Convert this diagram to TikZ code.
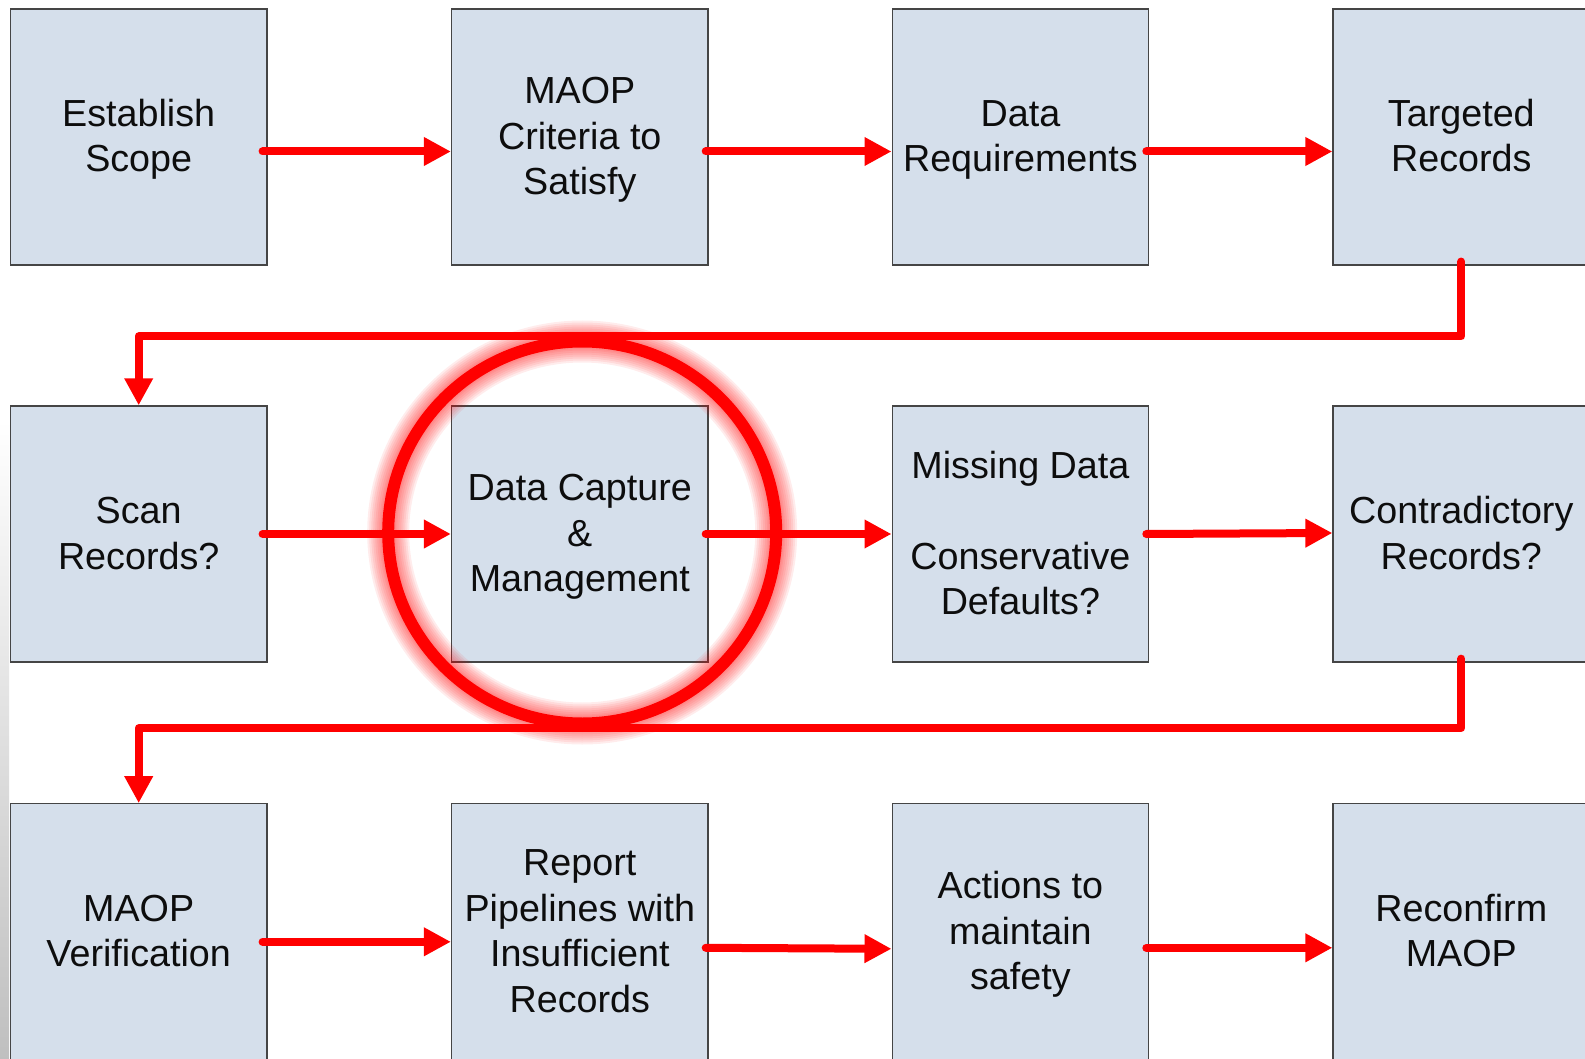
\documentclass[tikz,border=0pt]{standalone}
\usepackage{fontspec}
\setmainfont{Liberation Sans}
\usetikzlibrary{arrows.meta,calc}

\definecolor{boxfill}{HTML}{D5DFEB}
\definecolor{boxline}{HTML}{454545}
\definecolor{flowred}{HTML}{FF0000}

% fixed first-line height and last-line depth, so every label sits alike
\newcommand\steptext[1]{\rule{0pt}{32.5pt}#1\rule[-8pt]{0pt}{0pt}}

\tikzset{
  stepbox/.style={draw=boxline, line width=1.3pt, fill=boxfill,
    minimum width=256.5pt, minimum height=256pt, inner sep=0pt,
    align=center, text=black!95,
    font=\fontsize{37.7pt}{45.5pt}\selectfont},
  flow/.style={draw=flowred, line width=8pt, line cap=round, line join=round,
    -{Triangle[length=27pt,width=27pt]}},
  halo/.style={draw=flowred, opacity=0.075},
}

\begin{document}
\begin{tikzpicture}[x=1pt,y=-1pt]
  % page frame
  \useasboundingbox (0,0) rectangle (1585,1059);
  \clip (0,0) rectangle (1585,1059);
  \fill[white] (0,0) rectangle (1585,1059);
  \shade[top color=white, bottom color=black!25] (0,420) rectangle (9,1059);

  % first row
  \node[stepbox] (es) at (138.7,136.9) {\steptext{Establish\\Scope}};
  \node[stepbox] (mc) at (579.8,136.9) {\steptext{MAOP\\Criteria to\\Satisfy}};
  \node[stepbox] (dr) at (1020.4,136.9) {\steptext{Data\\Requirements}};
  \node[stepbox] (tr) at (1461.3,136.9) {\steptext{Targeted\\Records}};

  % second row
  \node[stepbox] (sr) at (138.7,534) {\steptext{Scan\\Records?}};
  \node[stepbox] (dc) at (579.8,534) {\steptext{Data Capture\\\&\\Management}};
  \node[stepbox] (md) at (1020.4,534) {\steptext{Missing Data\\[45.5pt]Conservative\\Defaults?}};
  \node[stepbox] (cr) at (1461.3,534) {\steptext{Contradictory\\Records?}};

  % third row
  \node[stepbox] (mv) at (138.7,931.8) {\steptext{MAOP\\Verification}};
  \node[stepbox] (rp) at (579.8,931.8) {\steptext{Report\\Pipelines with\\Insufficient\\Records}};
  \node[stepbox] (am) at (1020.4,931.8) {\steptext{Actions to\\maintain\\safety}};
  \node[stepbox] (rm) at (1461.3,931.8) {\steptext{Reconfirm\\MAOP}};

  % connectors, first row
  \draw[flow] ($(es.east)+(-5,14.6)$) -- ($(mc.west)+(0,14.6)$);
  \draw[flow] ($(mc.east)+(-3,14.6)$) -- ($(dr.west)+(0,14.6)$);
  \draw[flow] ($(dr.east)+(-3,14.6)$) -- ($(tr.west)+(0,14.6)$);
  \draw[flow] ($(tr.south)+(0,-4)$) |- ($(sr.north)+(0,-69)$) -- (sr.north);

  % connectors, second row
  \draw[flow] ($(sr.east)+(-5,0)$) -- (dc.west);
  \draw[flow] ($(dc.east)+(-3,0)$) -- (md.west);
  \draw[flow] ($(md.east)+(-3,0)$) -- ($(cr.west)+(0,-1)$);
  \draw[flow] ($(cr.south)+(0,-4)$) |- ($(mv.north)+(0,-75)$) -- (mv.north);

  % connectors, third row
  \draw[flow] ($(mv.east)+(-5,10)$) -- ($(rp.west)+(0,10)$);
  \draw[flow] ($(rp.east)+(-3,16)$) -- ($(am.west)+(0,17)$);
  \draw[flow] ($(am.east)+(-3,16)$) -- ($(rm.west)+(0,16)$);

  % highlight ring round the data capture step
  \coordinate (ring) at ($(dc.center)+(2.4,-1.5)$);
  \foreach \w in {42,38,34,30,26,22,18,15}
    \draw[halo, line width=\w pt] (ring) ellipse [x radius=194, y radius=191];
  \draw[draw=flowred, line width=12pt] (ring) ellipse [x radius=194, y radius=191];
\end{tikzpicture}
\end{document}
